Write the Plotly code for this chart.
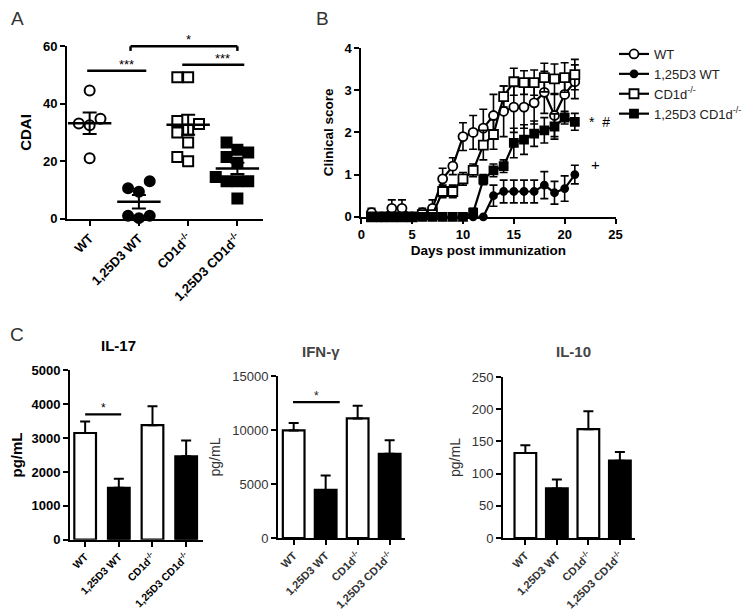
import numpy as np
import plotly.graph_objects as go

FONT = "Liberation Sans, Arial, sans-serif"

groups = ["WT", "1,25D3 WT", "CD1d<sup>-/-</sup>", "1,25D3 CD1d<sup>-/-</sup>"]
fills = ["white", "black", "white", "black"]

# ---------------- Panel A: CDAI scatter ----------------
cdai_wt = [44.6, 33.1, 32.5, 34.8, 21.0]
cdai_d3_wt = [10.6, 9.4, 13.0, 1.0, 0.2, 1.0]
cdai_cd1d = [49.2, 49.2, 34.0, 33.0, 31.0, 30.0, 26.5, 21.5, 20.0]
cdai_d3_cd1d = [26.5, 24.0, 23.0, 21.5, 19.5, 14.5, 13.0, 13.0, 13.0, 7.0]
cdai_sets = [cdai_wt, cdai_d3_wt, cdai_cd1d, cdai_d3_cd1d]
cdai_symbols = ["circle", "circle", "square", "square"]
cdai_ticks = [0, 20, 40, 60]
# significance: (from group, to group, height, label, bracket)
cdai_sig = [(-0.05, 1.15, 51.5, "***", False),
            (0.83, 3.0, 60.0, "*", True),
            (1.88, 3.14, 53.6, "***", False)]

# ---------------- Panel B: clinical score ----------------
days = list(range(1, 22))
score_wt = [0.1, 0, 0.2, 0.2, 0, 0.1, 0.2, 0.9, 1.2, 1.9, 2.0, 2.1, 2.4, 2.5, 2.6, 2.6, 2.7, 2.95, 2.4, 2.9, 3.2]
err_wt = [0.1, 0, 0.2, 0.2, 0, 0.1, 0.2, 0.25, 0.2, 0.33, 0.4, 0.45, 0.5, 0.6, 0.6, 0.5, 0.5, 0.5, 0.5, 0.45, 0.4]
score_d3_wt = [0] * 12 + [0.5, 0.6, 0.6, 0.6, 0.6, 0.75, 0.57, 0.67, 1.0]
err_d3_wt = [0] * 12 + [0.25, 0.27, 0.27, 0.27, 0.27, 0.32, 0.27, 0.3, 0.22]
score_cd1d = [0, 0, 0, 0, 0, 0.05, 0.05, 0.6, 0.6, 0.9, 1.1, 1.7, 1.95, 2.85, 3.2, 3.18, 3.18, 3.3, 3.27, 3.3, 3.37]
err_cd1d = [0, 0, 0, 0, 0, 0.05, 0.05, 0.15, 0.15, 0.15, 0.15, 0.35, 0.35, 0.25, 0.32, 0.28, 0.3, 0.34, 0.35, 0.35, 0.36]
score_d3_cd1d = [0] * 10 + [0.1, 0.88, 1.1, 1.2, 1.75, 1.83, 1.97, 2.05, 2.14, 2.35, 2.25]
err_d3_cd1d = [0] * 10 + [0.1, 0.12, 0.15, 0.15, 0.35, 0.35, 0.3, 0.3, 0.3, 0.15, 0.2]
b_series = [
    ("WT", score_wt, err_wt, "circle", "white", 9),
    ("1,25D3 WT", score_d3_wt, err_d3_wt, "circle", "black", 7),
    ("CD1d<sup>-/-</sup>", score_cd1d, err_cd1d, "square", "white", 9),
    ("1,25D3 CD1d<sup>-/-</sup>", score_d3_cd1d, err_d3_cd1d, "square", "black", 8),
]
b_xticks = [0, 5, 10, 15, 20, 25]
b_yticks = [0, 1, 2, 3, 4]

# ---------------- Panel C: cytokines ----------------
il17 = [3150, 1530, 3380, 2460]
il17_err = [340, 270, 560, 470]
il17_ticks = [0, 1000, 2000, 3000, 4000, 5000]
ifng = [9960, 4450, 11070, 7790]
ifng_err = [680, 1330, 1180, 1270]
ifng_ticks = [0, 5000, 10000, 15000]
il10 = [132, 77, 169, 120]
il10_err = [12, 14, 28, 13.5]
il10_ticks = [0, 50, 100, 150, 200, 250]

W, H = 750, 610


def fx(px):
    return px / W


def fy(py):
    return 1 - py / H


def dom_x(a, b):
    return [fx(a), fx(b)]


def dom_y(bottom, top):
    return [fy(bottom), fy(top)]


fig = go.Figure()

# ---- Panel A ----
A_xdom, A_ydom = dom_x(59, 255), dom_y(210.7, 38.3)
A_xr, A_yr = [-0.46, 3.52], [0, 60]
px_per_cat = (255 - 59) / (A_xr[1] - A_xr[0])
px_per_unit = (210.7 - 38.3) / 60
msize = 10
step = 0.22


def swarm(vals):
    order = np.argsort(vals, kind="stable")
    placed = []
    offs = np.zeros(len(vals))
    cands = [0]
    for n in range(1, 8):
        cands += [-n * step, n * step]
    for i in order:
        v = vals[i]
        for c in cands:
            ok = True
            for (pc, pv) in placed:
                d = np.hypot((c - pc) * px_per_cat, (v - pv) * px_per_unit)
                if d < msize + 0.5:
                    ok = False
                    break
            if ok:
                offs[i] = c
                placed.append((c, v))
                break
    return offs


for gi, vals in enumerate(cdai_sets):
    vals = np.array(vals, dtype=float)
    offs = swarm(vals)
    fig.add_trace(go.Scatter(
        x=gi + offs, y=vals, mode="markers", xaxis="x", yaxis="y",
        marker=dict(symbol=cdai_symbols[gi], size=msize, color=fills[gi],
                    line=dict(color="black", width=2)),
        cliponaxis=False, showlegend=False, hoverinfo="skip"))
    m = vals.mean()
    sem = vals.std(ddof=1) / np.sqrt(len(vals))
    fig.add_trace(go.Scatter(
        x=[gi], y=[m], mode="markers", xaxis="x", yaxis="y",
        marker=dict(symbol="line-ew", size=31, color="black",
                    line=dict(color="black", width=2.5)),
        error_y=dict(type="data", array=[sem], width=7, thickness=2, color="black"),
        cliponaxis=False, showlegend=False, hoverinfo="skip"))


def a_to_paper(xv, yv):
    px = A_xdom[0] + (xv - A_xr[0]) / (A_xr[1] - A_xr[0]) * (A_xdom[1] - A_xdom[0])
    py = A_ydom[0] + (yv - A_yr[0]) / (A_yr[1] - A_yr[0]) * (A_ydom[1] - A_ydom[0])
    return px, py


shapes = []
annotations = []
for (g1, g2, h, lab, bracket) in cdai_sig:
    x0, y0 = a_to_paper(g1, h)
    x1, _ = a_to_paper(g2, h)
    shapes.append(dict(type="line", xref="paper", yref="paper", x0=x0, x1=x1, y0=y0, y1=y0,
                       line=dict(color="black", width=2.5)))
    if bracket:
        _, yd = a_to_paper(g1, h - 1.6)
        shapes.append(dict(type="line", xref="paper", yref="paper", x0=x0, x1=x0, y0=yd, y1=y0,
                           line=dict(color="black", width=2.5)))
        shapes.append(dict(type="line", xref="paper", yref="paper", x0=x1, x1=x1, y0=yd, y1=y0,
                           line=dict(color="black", width=2.5)))
    annotations.append(dict(xref="paper", yref="paper", x=(x0 + x1) / 2, y=y0,
                            text=lab, showarrow=False, yanchor="bottom", yshift=-3,
                            font=dict(family=FONT, size=13, color="black")))

# ---- Panel B ----
for name, sc, er, sym, col, sz in b_series:
    fig.add_trace(go.Scatter(
        x=days, y=sc, mode="lines+markers", name=name, xaxis="x2", yaxis="y2",
        line=dict(color="black", width=2.2),
        marker=dict(symbol=sym, size=sz, color=col, line=dict(color="black", width=1.8)),
        error_y=dict(type="data", array=er, width=4, thickness=1.6, color="black"),
        cliponaxis=False, hoverinfo="skip"))
annotations.append(dict(xref="x2", yref="y2", x=22.2, y=2.25, text="*  #", showarrow=False,
                        xanchor="left", font=dict(family=FONT, size=14, color="black")))
annotations.append(dict(xref="x2", yref="y2", x=22.4, y=1.25, text="+", showarrow=False,
                        xanchor="left", font=dict(family=FONT, size=15, color="black")))

# ---- Panel C ----
cyto = [("x3", "y3", il17, il17_err, 5, 21.7 / 33.7),
        ("x4", "y4", ifng, ifng_err, 5, 21.7 / 32),
        ("x5", "y5", il10, il10_err, 5, 21.7 / 31.5)]
for xa, ya, vals, errs, w, bw in cyto:
    fig.add_trace(go.Bar(
        x=[0, 1, 2, 3], y=vals, xaxis=xa, yaxis=ya, width=bw,
        marker=dict(color=fills, line=dict(color="black", width=2.2)),
        error_y=dict(type="data", array=errs, arrayminus=[0, 0, 0, 0], width=w,
                     thickness=2, color="black"),
        showlegend=False, hoverinfo="skip"))

# significance lines in C
c_sig = [("x3", "y3", 0.0, 1.07, 3700, "black"), ("x4", "y4", -0.02, 1.44, 12585, "#222")]
for xa, ya, x0, x1, h, col in c_sig:
    shapes.append(dict(type="line", xref=xa, yref=ya, x0=x0, x1=x1, y0=h, y1=h,
                       line=dict(color="black", width=2.2)))
    annotations.append(dict(xref=xa, yref=ya, x=(x0 + x1) / 2, y=h, text="*", showarrow=False,
                            yanchor="bottom", yshift=-3, font=dict(family=FONT, size=12, color=col)))

# panel letters and titles
for txt, x, y in [("A", 9, 10), ("B", 314, 10), ("C", 9, 326)]:
    annotations.append(dict(xref="paper", yref="paper", x=fx(x), y=fy(y), text=txt,
                            xanchor="center", yanchor="middle",
                            showarrow=False, font=dict(family=FONT, size=19, color="#333")))
for txt, x, y, col in [("IL-17", 110, 337, "black"), ("IFN-γ", 313, 343, "#444"), ("IL-10", 565, 343, "#444")]:
    annotations.append(dict(xref="paper", yref="paper", x=fx(x), y=fy(y), text="<b>" + txt + "</b>",
                            xanchor="center", yanchor="middle",
                            showarrow=False, font=dict(family=FONT, size=15, color=col)))


def axis_common(color="black"):
    return dict(showline=True, linewidth=2, linecolor=color, ticks="outside", ticklen=5,
                tickwidth=2, tickcolor=color, showgrid=False, zeroline=False, fixedrange=True,
                automargin=False)


bold = dict(family=FONT, size=13, color="black", weight="bold")
bold_x = dict(family=FONT, size=10.5, color="black", weight="bold")
norm = dict(family=FONT, size=13, color="#333")
norm_x = dict(family=FONT, size=11, color="#333", weight="bold")

cat_ticks = dict(tickmode="array", tickvals=[0, 1, 2, 3], ticktext=groups, tickangle=-45)


def num_ticks(vals):
    return dict(tickmode="array", tickvals=vals, ticktext=[str(v) for v in vals])


fig.update_layout(
    width=W, height=H, margin=dict(l=0, r=0, t=0, b=0, autoexpand=False),
    plot_bgcolor="white", paper_bgcolor="white",
    font=dict(family=FONT),
    xaxis=dict(domain=A_xdom, range=A_xr, anchor="y", tickfont=dict(bold, size=13), **cat_ticks,
               **axis_common()),
    yaxis=dict(domain=A_ydom, range=A_yr, anchor="x", tickfont=bold, **num_ticks(cdai_ticks),
               title=dict(text="<b>CDAI</b>", font=dict(family=FONT, size=15, color="black"), standoff=8),
               **axis_common()),
    xaxis2=dict(domain=dom_x(353.3, 607.5), range=[0, 25], anchor="y2", **num_ticks(b_xticks),
                tickfont=bold,
                title=dict(text="<b>Days post immunization</b>", font=dict(family=FONT, size=13.5, color="black"),
                           standoff=4),
                **axis_common()),
    yaxis2=dict(domain=dom_y(208.8, 40), range=[0, 4], anchor="x2", **num_ticks(b_yticks), tickfont=bold,
                title=dict(text="<b>Clinical score</b>", font=dict(family=FONT, size=13.5, color="black"),
                           standoff=8),
                **axis_common()),
    xaxis3=dict(domain=dom_x(62, 195), range=[-0.45, 3.5], anchor="y3", tickfont=bold_x, **cat_ticks,
                **axis_common()),
    yaxis3=dict(domain=dom_y(531.7, 362.3), range=[0, 5000], anchor="x3",
                **num_ticks(il17_ticks), tickfont=bold,
                title=dict(text="<b>pg/mL</b>", font=dict(family=FONT, size=15, color="black"), standoff=8),
                **axis_common()),
    xaxis4=dict(domain=dom_x(270, 397), range=[-0.49, 3.48], anchor="y4", tickfont=norm_x, **cat_ticks,
                **axis_common()),
    yaxis4=dict(domain=dom_y(530, 368), range=[0, 15000], anchor="x4",
                **num_ticks(ifng_ticks), tickfont=norm,
                title=dict(text="pg/mL", font=dict(family=FONT, size=14, color="#333"), standoff=8),
                **axis_common()),
    xaxis5=dict(domain=dom_x(495, 627), range=[-0.71, 3.48], anchor="y5", tickfont=norm_x, **cat_ticks,
                **axis_common()),
    yaxis5=dict(domain=dom_y(530, 369), range=[0, 250], anchor="x5",
                **num_ticks(il10_ticks), tickfont=norm,
                title=dict(text="pg/mL", font=dict(family=FONT, size=14, color="#333"), standoff=8),
                **axis_common()),
    legend=dict(x=fx(606), y=fy(31), xanchor="left", yanchor="top",
                font=dict(family=FONT, size=13, color="#222"), bgcolor="rgba(0,0,0,0)",
                tracegroupgap=0, itemwidth=30),
    shapes=shapes, annotations=annotations,
)

fig.write_html("out.html")
